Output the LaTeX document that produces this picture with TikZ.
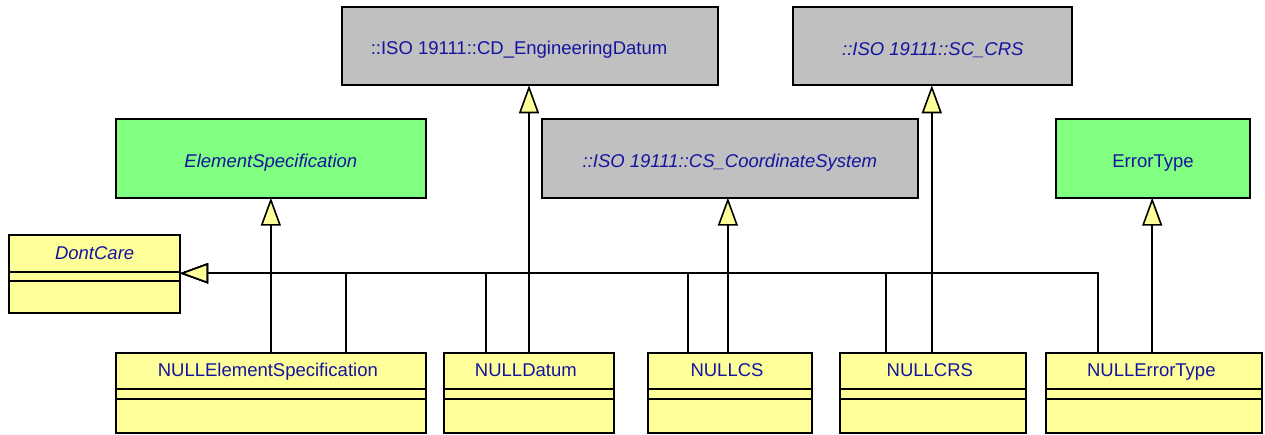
\documentclass[tikz,border=0pt]{standalone}
\usepackage{fontspec}
\setmainfont{Liberation Sans}
\usetikzlibrary{arrows.meta}
\definecolor{umlyellow}{RGB}{255,255,153}
\definecolor{umlgreen}{RGB}{128,255,128}
\definecolor{umlgray}{RGB}{192,192,192}
\definecolor{umltext}{RGB}{20,20,160}
\tikzset{
  box/.style={draw=black, line width=1.8pt, rectangle, inner sep=0pt, outer sep=0pt, anchor=north west,
    font=\fontsize{18.5}{22}\selectfont, text=umltext, text height=18pt, text depth=0pt},
  ext/.style={box, fill=umlgray},
  iface/.style={box, fill=umlgreen},
  cls/.style={box, fill=umlyellow},
  lbl/.style={font=\fontsize{18.5}{22}\selectfont, text=umltext, inner sep=0pt, anchor=base},
  divider/.style={line width=1.8pt},
  gen/.style={line width=1.8pt, -{Triangle[open, fill=umlyellow, length=28pt, width=20pt, line width=1.6pt]}},
}
\begin{document}
\begin{tikzpicture}[x=1pt, y=-1pt]
\useasboundingbox (0,0) rectangle (1265,435);
% external / interface classes
\node[ext, minimum width=376.6pt, minimum height=78pt] (cd) at (341.7,7.3) {};
\node[lbl] at ([xshift=-11pt,yshift=-8.7pt]cd.center) {::ISO 19111::CD\_EngineeringDatum};
\node[ext, minimum width=279pt, minimum height=78pt, font=\fontsize{18.5}{22}\selectfont\itshape] (crs) at (793.3,7.3) {::ISO 19111::SC\_CRS};
\node[iface, minimum width=310.3pt, minimum height=78.4pt, font=\fontsize{18.5}{22}\selectfont\itshape] (es) at (115.7,119.3) {ElementSpecification};
\node[ext, minimum width=376.3pt, minimum height=78.4pt, font=\fontsize{18.5}{22}\selectfont\itshape] (cs) at (541.7,119.3) {::ISO 19111::CS\_CoordinateSystem};
\node[iface, minimum width=194.6pt, minimum height=78.4pt] (et) at (1055.7,119.3) {ErrorType};
% DontCare
\node[cls, minimum width=170.7pt, minimum height=78.3pt] (dc) at (9.3,235) {};
\node[lbl, font=\fontsize{18.5}{22}\selectfont\itshape] at ([yshift=-25pt]dc.north) {DontCare};
\draw[divider] ([yshift=-36.7pt]dc.north west) -- ([yshift=-36.7pt]dc.north east);
\draw[divider] ([yshift=-46pt]dc.north west) -- ([yshift=-46pt]dc.north east);
% bottom classes
\node[cls, minimum width=310.3pt, minimum height=80pt] (nes) at (115.7,353.3) {};
\node[cls, minimum width=169.7pt, minimum height=80pt] (nd) at (444,353.3) {};
\node[cls, minimum width=164pt, minimum height=80pt] (ncs) at (648,353.3) {};
\node[cls, minimum width=185.7pt, minimum height=80pt] (ncrs) at (840,353.3) {};
\node[cls, minimum width=216pt, minimum height=80pt] (net) at (1046.3,353.3) {};
\foreach \n/\t in {nes/NULLElementSpecification, nd/NULLDatum, ncs/NULLCS, ncrs/NULLCRS, net/NULLErrorType}{
  \node[lbl] at ([xshift=-3pt,yshift=-23.4pt]\n.north) {\t};
  \draw[divider] ([yshift=-36pt]\n.north west) -- ([yshift=-36pt]\n.north east);
  \draw[divider] ([yshift=-46pt]\n.north west) -- ([yshift=-46pt]\n.north east);
}
% generalizations to DontCare
\coordinate (dcp) at (dc.east |- 0,273.3);
\draw[gen] ([xshift=75pt]nes.north) |- (dcp);
\draw[gen] ([xshift=-43pt]nd.north) |- (dcp);
\draw[gen] ([xshift=-42pt]ncs.north) |- (dcp);
\draw[gen] ([xshift=-47pt]ncrs.north) |- (dcp);
\draw[gen] ([xshift=-56pt]net.north) |- (dcp);
% generalizations to parents
\draw[gen] (es.south |- nes.north) -- (es.south);
\draw[gen] ([xshift=-1pt]cd.south |- nd.north) -- ([xshift=-1pt]cd.south);
\draw[gen] ([xshift=-2pt]cs.south |- ncs.north) -- ([xshift=-2pt]cs.south);
\draw[gen] ([xshift=-1pt]crs.south |- ncrs.north) -- ([xshift=-1pt]crs.south);
\draw[gen] ([xshift=-0.8pt]et.south |- net.north) -- ([xshift=-0.8pt]et.south);
\end{tikzpicture}
\end{document}
